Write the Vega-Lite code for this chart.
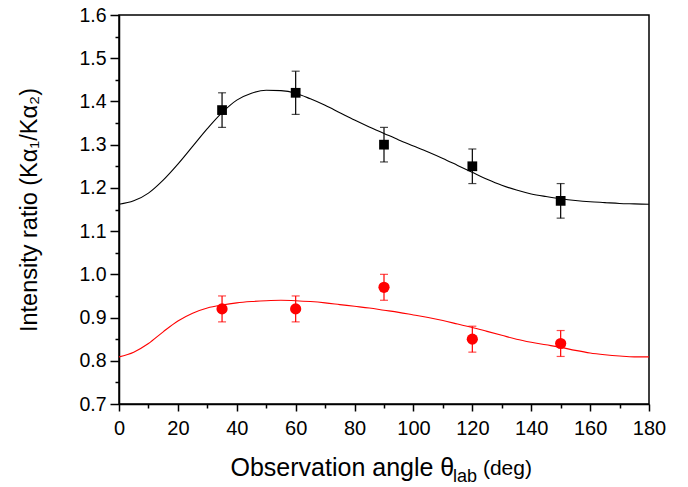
{
  "$schema": "https://vega.github.io/schema/vega-lite/v6.json",
  "width": 530,
  "height": 389,
  "autosize": {"type": "none"},
  "padding": {"left": 119, "top": 15, "right": 39, "bottom": 83},
  "background": "white",
  "datasets": {
    "curves": [
      {"series": "A", "angle": 0, "ratio": 1.162},
      {"series": "A", "angle": 5, "ratio": 1.170},
      {"series": "A", "angle": 10, "ratio": 1.188},
      {"series": "A", "angle": 15, "ratio": 1.218},
      {"series": "A", "angle": 20, "ratio": 1.255},
      {"series": "A", "angle": 25, "ratio": 1.296},
      {"series": "A", "angle": 30, "ratio": 1.337},
      {"series": "A", "angle": 35, "ratio": 1.374},
      {"series": "A", "angle": 40, "ratio": 1.403},
      {"series": "A", "angle": 45, "ratio": 1.419},
      {"series": "A", "angle": 50, "ratio": 1.426},
      {"series": "A", "angle": 55, "ratio": 1.425},
      {"series": "A", "angle": 60, "ratio": 1.419},
      {"series": "A", "angle": 65, "ratio": 1.406},
      {"series": "A", "angle": 70, "ratio": 1.391},
      {"series": "A", "angle": 75, "ratio": 1.374},
      {"series": "A", "angle": 80, "ratio": 1.357},
      {"series": "A", "angle": 85, "ratio": 1.341},
      {"series": "A", "angle": 90, "ratio": 1.326},
      {"series": "A", "angle": 95, "ratio": 1.311},
      {"series": "A", "angle": 100, "ratio": 1.297},
      {"series": "A", "angle": 105, "ratio": 1.283},
      {"series": "A", "angle": 110, "ratio": 1.268},
      {"series": "A", "angle": 115, "ratio": 1.252},
      {"series": "A", "angle": 120, "ratio": 1.236},
      {"series": "A", "angle": 125, "ratio": 1.220},
      {"series": "A", "angle": 130, "ratio": 1.206},
      {"series": "A", "angle": 135, "ratio": 1.195},
      {"series": "A", "angle": 140, "ratio": 1.186},
      {"series": "A", "angle": 145, "ratio": 1.180},
      {"series": "A", "angle": 150, "ratio": 1.175},
      {"series": "A", "angle": 155, "ratio": 1.171},
      {"series": "A", "angle": 160, "ratio": 1.168},
      {"series": "A", "angle": 165, "ratio": 1.166},
      {"series": "A", "angle": 170, "ratio": 1.164},
      {"series": "A", "angle": 175, "ratio": 1.163},
      {"series": "A", "angle": 180, "ratio": 1.162},
      {"series": "B", "angle": 0, "ratio": 0.809},
      {"series": "B", "angle": 5, "ratio": 0.820},
      {"series": "B", "angle": 10, "ratio": 0.840},
      {"series": "B", "angle": 15, "ratio": 0.867},
      {"series": "B", "angle": 20, "ratio": 0.892},
      {"series": "B", "angle": 25, "ratio": 0.910},
      {"series": "B", "angle": 30, "ratio": 0.922},
      {"series": "B", "angle": 35, "ratio": 0.929},
      {"series": "B", "angle": 40, "ratio": 0.934},
      {"series": "B", "angle": 45, "ratio": 0.937},
      {"series": "B", "angle": 50, "ratio": 0.939},
      {"series": "B", "angle": 55, "ratio": 0.940},
      {"series": "B", "angle": 60, "ratio": 0.939},
      {"series": "B", "angle": 65, "ratio": 0.937},
      {"series": "B", "angle": 70, "ratio": 0.934},
      {"series": "B", "angle": 75, "ratio": 0.930},
      {"series": "B", "angle": 80, "ratio": 0.926},
      {"series": "B", "angle": 85, "ratio": 0.922},
      {"series": "B", "angle": 90, "ratio": 0.917},
      {"series": "B", "angle": 95, "ratio": 0.912},
      {"series": "B", "angle": 100, "ratio": 0.906},
      {"series": "B", "angle": 105, "ratio": 0.900},
      {"series": "B", "angle": 110, "ratio": 0.893},
      {"series": "B", "angle": 115, "ratio": 0.885},
      {"series": "B", "angle": 120, "ratio": 0.877},
      {"series": "B", "angle": 125, "ratio": 0.868},
      {"series": "B", "angle": 130, "ratio": 0.859},
      {"series": "B", "angle": 135, "ratio": 0.850},
      {"series": "B", "angle": 140, "ratio": 0.843},
      {"series": "B", "angle": 145, "ratio": 0.837},
      {"series": "B", "angle": 150, "ratio": 0.831},
      {"series": "B", "angle": 155, "ratio": 0.824},
      {"series": "B", "angle": 160, "ratio": 0.818},
      {"series": "B", "angle": 165, "ratio": 0.814},
      {"series": "B", "angle": 170, "ratio": 0.811},
      {"series": "B", "angle": 175, "ratio": 0.809},
      {"series": "B", "angle": 180, "ratio": 0.809}
    ],
    "points": [
      {"series": "A", "angle": 35, "ratio": 1.38, "lo": 1.34, "hi": 1.42},
      {"series": "A", "angle": 60, "ratio": 1.42, "lo": 1.37, "hi": 1.47},
      {"series": "A", "angle": 90, "ratio": 1.30, "lo": 1.26, "hi": 1.34},
      {"series": "A", "angle": 120, "ratio": 1.25, "lo": 1.21, "hi": 1.29},
      {"series": "A", "angle": 150, "ratio": 1.17, "lo": 1.13, "hi": 1.21},
      {"series": "B", "angle": 35, "ratio": 0.92, "lo": 0.89, "hi": 0.95},
      {"series": "B", "angle": 60, "ratio": 0.92, "lo": 0.89, "hi": 0.95},
      {"series": "B", "angle": 90, "ratio": 0.97, "lo": 0.94, "hi": 1.00},
      {"series": "B", "angle": 120, "ratio": 0.85, "lo": 0.82, "hi": 0.88},
      {"series": "B", "angle": 150, "ratio": 0.84, "lo": 0.81, "hi": 0.87}
    ]
  },
  "resolve": {"axis": {"x": "independent", "y": "independent"}},
  "layer": [
    {
      "data": {"name": "curves"},
      "mark": {"type": "line", "strokeWidth": 1.1, "clip": true, "interpolate": "monotone"},
      "encoding": {
        "x": {
          "field": "angle", "type": "quantitative",
          "scale": {"domain": [0, 180], "nice": false, "zero": false},
          "axis": {
            "orient": "bottom",
            "values": [0, 20, 40, 60, 80, 100, 120, 140, 160, 180],
            "grid": false, "tickSize": 7, "tickWidth": 1.5, "domainWidth": 1.5,
            "domainColor": "#000", "tickColor": "#000",
            "labelFont": "Liberation Sans", "labelFontSize": 20, "labelColor": "#000", "labelPadding": 7,
            "labelFlush": false, "labelOverlap": false,
            "title": "Observation angle θ", "titleFont": "Liberation Sans", "titleFontSize": 25,
            "titleFontWeight": "normal", "titleColor": "#000",
            "titleX": 111, "titleY": 71, "titleAlign": "left", "titleBaseline": "alphabetic"
          }
        },
        "y": {
          "field": "ratio", "type": "quantitative",
          "scale": {"domain": [0.7, 1.6], "nice": false, "zero": false},
          "axis": {
            "orient": "left",
            "values": [0.7, 0.8, 0.9, 1.0, 1.1, 1.2, 1.3, 1.4, 1.5, 1.6],
            "format": ".1f",
            "grid": false, "tickSize": 9, "tickWidth": 1.5, "domainWidth": 1.5,
            "domainColor": "#000", "tickColor": "#000",
            "labelFont": "Liberation Sans", "labelFontSize": 19.5, "labelColor": "#000", "labelPadding": 4,
            "labelFlush": false, "labelOverlap": false,
            "title": "Intensity ratio (Kα₁/Kα₂)", "titleFont": "Liberation Sans", "titleFontSize": 23.5,
            "titleFontWeight": "normal", "titleColor": "#000",
            "titleX": -83, "titleY": 194.5, "titleAngle": 270, "titleAlign": "center", "titleBaseline": "alphabetic"
          }
        },
        "color": {
          "field": "series", "type": "nominal",
          "scale": {"domain": ["A", "B"], "range": ["#000000", "#ff0000"]},
          "legend": null
        }
      }
    },
    {
      "data": {"name": "points"},
      "mark": {"type": "errorbar", "ticks": {"size": 8, "thickness": 1.2}, "rule": {"strokeWidth": 1.2}},
      "encoding": {
        "x": {"field": "angle", "type": "quantitative", "scale": {"domain": [0, 180], "nice": false, "zero": false}, "axis": null},
        "y": {"field": "lo", "type": "quantitative", "scale": {"domain": [0.7, 1.6], "nice": false, "zero": false}, "axis": null},
        "y2": {"field": "hi"},
        "color": {"field": "series", "type": "nominal", "scale": {"domain": ["A", "B"], "range": ["#000000", "#ff0000"]}, "legend": null}
      }
    },
    {
      "data": {"name": "points"},
      "mark": {"type": "point", "filled": true, "opacity": 1, "strokeWidth": 0},
      "encoding": {
        "x": {"field": "angle", "type": "quantitative", "scale": {"domain": [0, 180], "nice": false, "zero": false}, "axis": null},
        "y": {"field": "ratio", "type": "quantitative", "scale": {"domain": [0.7, 1.6], "nice": false, "zero": false}, "axis": null},
        "color": {"field": "series", "type": "nominal", "scale": {"domain": ["A", "B"], "range": ["#000000", "#ff0000"]}, "legend": null},
        "shape": {"field": "series", "type": "nominal", "scale": {"domain": ["A", "B"], "range": ["square", "circle"]}, "legend": null},
        "size": {"field": "series", "type": "nominal", "scale": {"domain": ["A", "B"], "range": [95, 125]}, "legend": null}
      }
    },
    {
      "data": {"name": "points"},
      "mark": {"type": "point", "opacity": 0},
      "encoding": {
        "x": {
          "field": "angle", "type": "quantitative",
          "scale": {"domain": [0, 180], "nice": false, "zero": false},
          "axis": {
            "orient": "bottom", "values": [10, 30, 50, 70, 90, 110, 130, 150, 170],
            "labels": false, "domain": false, "grid": false, "title": null,
            "tickSize": 4, "tickWidth": 1.5, "tickColor": "#000"
          }
        },
        "y": {
          "field": "ratio", "type": "quantitative",
          "scale": {"domain": [0.7, 1.6], "nice": false, "zero": false},
          "axis": {
            "orient": "left", "values": [0.75, 0.85, 0.95, 1.05, 1.15, 1.25, 1.35, 1.45, 1.55],
            "labels": false, "domain": false, "grid": false, "title": null,
            "tickSize": 4, "tickWidth": 1.5, "tickColor": "#000"
          }
        }
      }
    },
    {
      "data": {"values": [{"part": "lab"}]},
      "mark": {"type": "text", "align": "left", "baseline": "alphabetic", "dy": 78, "fontSize": 18, "font": "Liberation Sans", "color": "#000", "clip": false},
      "encoding": {
        "x": {"datum": 113.4, "type": "quantitative", "scale": {"domain": [0, 180], "nice": false, "zero": false}, "axis": null},
        "y": {"datum": 0.7, "type": "quantitative", "scale": {"domain": [0.7, 1.6], "nice": false, "zero": false}, "axis": null},
        "text": {"field": "part"}
      }
    },
    {
      "data": {"values": [{"part": "(deg)"}]},
      "mark": {"type": "text", "align": "left", "baseline": "alphabetic", "dy": 71, "fontSize": 21, "font": "Liberation Sans", "color": "#000", "clip": false},
      "encoding": {
        "x": {"datum": 123.6, "type": "quantitative", "scale": {"domain": [0, 180], "nice": false, "zero": false}, "axis": null},
        "y": {"datum": 0.7, "type": "quantitative", "scale": {"domain": [0.7, 1.6], "nice": false, "zero": false}, "axis": null},
        "text": {"field": "part"}
      }
    }
  ],
  "config": {
    "font": "Liberation Sans",
    "view": {"stroke": "#000", "strokeWidth": 1.5},
    "axis": {"grid": false}
  }
}
